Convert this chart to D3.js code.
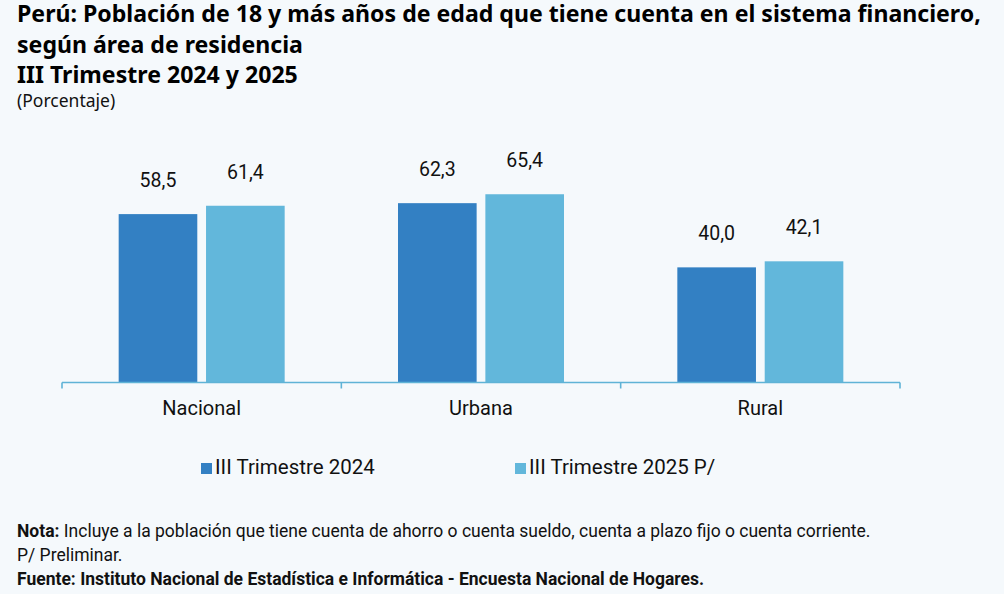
<!DOCTYPE html>
<html>
<head>
  <meta charset="utf-8">
  <script src="https://d3js.org/d3.v7.min.js"></script>
  <style>
    html, body {
      margin: 0;
      padding: 0;
      background-color: #f5f9fc;
    }
    svg {
      display: block;
    }
    .title {
      font-family: "Noto Sans";
      font-weight: 700;
      font-size: 23.1px;
      fill: #000;
    }
    .sub {
      font-family: "Noto Sans";
      font-size: 17.5px;
      fill: #111;
    }
    .lbl {
      font-family: Roboto;
      font-size: 20px;
      fill: #111;
    }
    .val {
      font-size: 19.5px;
    }
    .note {
      font-family: Roboto;
      font-size: 17.5px;
      fill: #111;
    }
  </style>
</head>
<body>
<script>
  // Data
  var categories = ["Nacional", "Urbana", "Rural"];
  var seriesNames = ["III Trimestre 2024", "III Trimestre 2025 P/"];
  var values2024 = [58.5, 62.3, 40.0];
  var values2025 = [61.4, 65.4, 42.1];
  var colors = ["#3380c3", "#62b7db"];

  var width = 1004, height = 594;

  var svg = d3.select("body")
      .append("svg")
      .attr("width", width)
      .attr("height", height);

  // Titles
  var titleLines = [
    "Perú: Población de 18 y más años de edad que tiene cuenta en el sistema financiero,",
    "según área de residencia",
    "III Trimestre 2024 y 2025"
  ];
  svg.selectAll("text.title")
      .data(titleLines)
      .enter()
      .append("text")
      .attr("class", "title")
      .attr("x", 17)
      .attr("y", function (d, i) { return 22 + i * 30.5; })
      .text(function (d) { return d; });

  svg.append("text")
      .attr("class", "sub")
      .attr("x", 17)
      .attr("y", 107)
      .text("(Porcentaje)");

  // Scales
  var x0 = d3.scaleBand()
      .domain(categories)
      .range([62, 900]);

  var x1 = d3.scaleBand()
      .domain(seriesNames)
      .range([0, 166])
      .paddingInner(0.1);

  var y = d3.scaleLinear()
      .domain([0, 70])
      .range([382.5, 181]);

  var rows = categories.map(function (c, i) {
    return { cat: c, vals: [values2024[i], values2025[i]] };
  });

  var groups = svg.selectAll("g.grp")
      .data(rows)
      .enter()
      .append("g")
      .attr("class", "grp")
      .attr("transform", function (d) {
        return "translate(" + (x0(d.cat) + (x0.bandwidth() - 166) / 2) + ",0)";
      });

  groups.selectAll("rect")
      .data(function (d) {
        return d.vals.map(function (v, j) { return { s: seriesNames[j], v: v, j: j }; });
      })
      .enter()
      .append("rect")
      .attr("x", function (d) { return x1(d.s); })
      .attr("width", x1.bandwidth())
      .attr("y", function (d) { return y(d.v); })
      .attr("height", function (d) { return y(0) - y(d.v); })
      .style("fill", function (d) { return colors[d.j]; });

  var fmt = function (v) { return v.toFixed(1).replace(".", ","); };

  groups.selectAll("text.val")
      .data(function (d) {
        return d.vals.map(function (v, j) { return { s: seriesNames[j], v: v }; });
      })
      .enter()
      .append("text")
      .attr("class", "lbl val")
      .attr("text-anchor", "middle")
      .attr("x", function (d) { return x1(d.s) + x1.bandwidth() / 2; })
      .attr("y", function (d) { return y(d.v) - 27; })
      .text(function (d) { return fmt(d.v); });

  // Category axis
  var xAxis = d3.axisBottom(x0)
      .tickSize(0)
      .tickPadding(18);

  var ax = svg.append("g")
      .attr("transform", "translate(0," + y(0) + ")")
      .call(xAxis);

  ax.select(".domain").remove();
  ax.selectAll("text")
      .attr("class", "lbl")
      .style("font-family", "Roboto")
      .style("font-size", "20px")
      .attr("fill", "#111");

  ax.append("line")
      .attr("x1", 62).attr("x2", 900)
      .attr("y1", 0).attr("y2", 0)
      .style("stroke", "#5fb3d6")
      .style("stroke-width", 1.6);

  var boundaries = categories.map(function (c) { return x0(c); }).concat([900]);
  ax.selectAll("line.tk")
      .data(boundaries)
      .enter()
      .append("line")
      .attr("class", "tk")
      .attr("x1", function (d) { return d; })
      .attr("x2", function (d) { return d; })
      .attr("y1", 0).attr("y2", 6)
      .style("stroke", "#5fb3d6")
      .style("stroke-width", 1.6);

  // Legend
  var legendX = [201, 515];
  var leg = svg.selectAll("g.leg")
      .data(seriesNames)
      .enter()
      .append("g")
      .attr("class", "leg")
      .attr("transform", function (d, i) { return "translate(" + legendX[i] + ",463)"; });

  leg.append("rect")
      .attr("width", 11)
      .attr("height", 11)
      .style("fill", function (d, i) { return colors[i]; });

  leg.append("text")
      .attr("class", "lbl")
      .attr("x", 14)
      .attr("y", 11)
      .style("font-size", "20.5px")
      .text(function (d) { return d; });

  // Notes
  var n1 = svg.append("text").attr("class", "note").attr("x", 17).attr("y", 537);
  n1.append("tspan").style("font-weight", 700).text("Nota:");
  n1.append("tspan").text(" Incluye a la población que tiene cuenta de ahorro o cuenta sueldo, cuenta a plazo fijo o cuenta corriente.");

  svg.append("text").attr("class", "note").attr("x", 17).attr("y", 561)
      .text("P/ Preliminar.");

  svg.append("text").attr("class", "note").attr("x", 17).attr("y", 585)
      .style("font-weight", 700)
      .text("Fuente: Instituto Nacional de Estadística e Informática - Encuesta Nacional de Hogares.");
</script>
</body>
</html>
